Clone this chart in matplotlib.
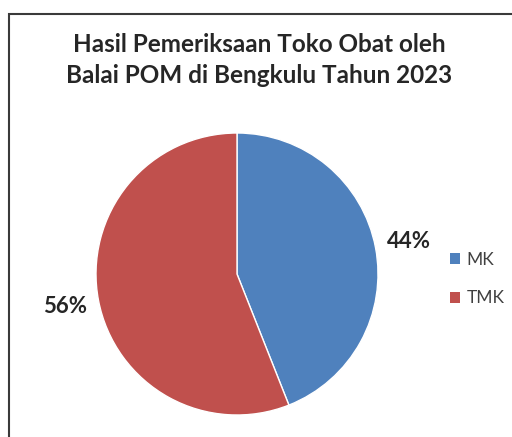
import matplotlib.pyplot as plt
from matplotlib.patches import Rectangle, Patch

# data
labels = ['MK', 'TMK']
values = [44, 56]
colors = ['#4F81BD', '#C0504D']
title = 'Hasil Pemeriksaan Toko Obat oleh\nBalai POM di Bengkulu Tahun 2023'

plt.rcParams['font.family'] = ['Lato', 'DejaVu Sans']

W, H = 512, 437
fig = plt.figure(figsize=(W / 100, H / 100), dpi=100)

# outer frame of the chart area (cropped on right/bottom)
fig.patches.append(Rectangle((9 / W, -0.1), 1.2, 1.1 - 14 / H, transform=fig.transFigure,
                             fill=False, edgecolor='#3a3a3a', linewidth=1.5))

# pie centred at pixel (237, 274), radius 141
cx, cy, r = 237, 274, 141
ax = fig.add_axes([(cx - r) / W, (H - cy - r) / H, 2 * r / W, 2 * r / H])
wedges, texts, autotexts = ax.pie(values, colors=colors, startangle=90, counterclock=False,
                                  autopct='%1.0f%%', pctdistance=1.24, radius=1,
                                  wedgeprops=dict(edgecolor='white', linewidth=1))
for t in autotexts:
    t.set_fontsize(16)
    t.set_fontweight('bold')
    t.set_color('#262626')
ax.set_xlim(-1, 1)
ax.set_ylim(-1, 1)
ax.set_aspect('equal')

fig.text(259 / W, 1 - 60 / H, title, ha='center', va='center', fontsize=17.5,
         fontweight='bold', color='#262626', linespacing=1.45)

handles = [Patch(facecolor=c, edgecolor='none') for c in colors]
fig.legend(handles, labels, loc='center left', bbox_to_anchor=(450 / W, 1 - 279 / H),
           frameon=False, fontsize=12.5, handlelength=0.6, handleheight=0.6,
           handletextpad=0.35, labelspacing=1.3, borderpad=0, borderaxespad=0,
           labelcolor='#404040')

fig.savefig('out.png', dpi=100)
